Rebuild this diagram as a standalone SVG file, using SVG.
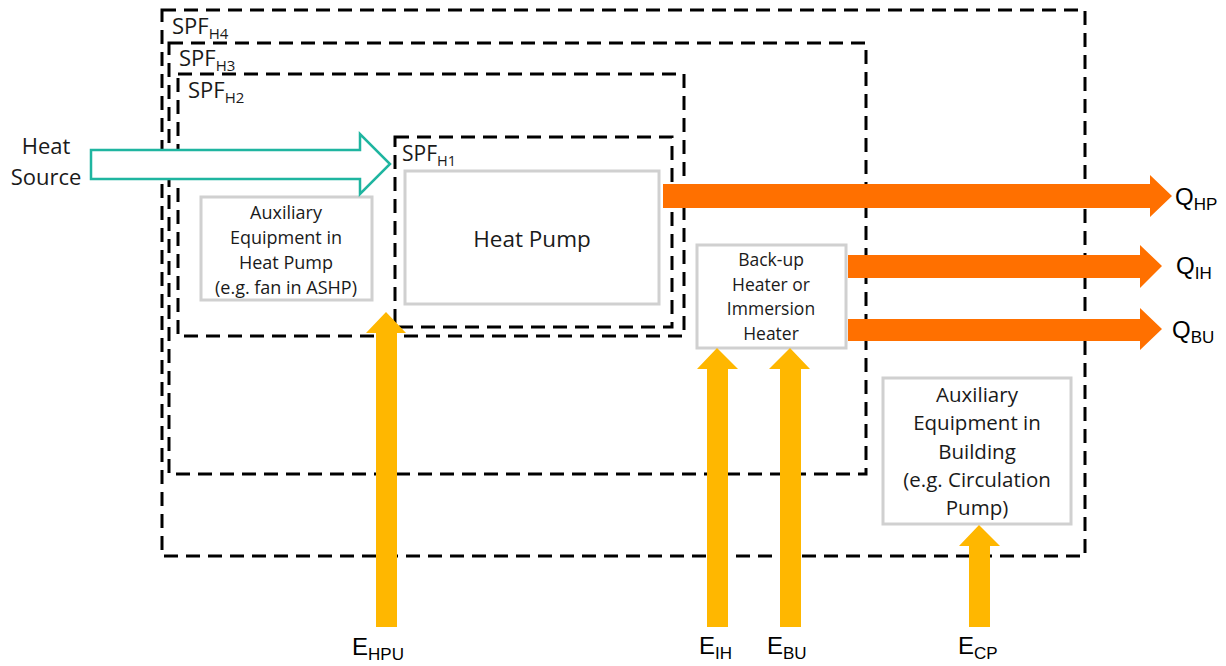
<svg xmlns="http://www.w3.org/2000/svg" width="1226" height="666" viewBox="0 0 1226 666">
<style>
.dash{fill:none;stroke:#000;stroke-width:3;stroke-dasharray:14 8}
.box{fill:#fff;stroke:#d0d0d0;stroke-width:3}
.t{font-family:"Open Sans","Liberation Sans",sans-serif;fill:#1a1a1a}
.a{font-family:"Liberation Sans",Arial,sans-serif;fill:#000}
.q{fill:#ff7000}
.e{fill:#ffb700}
</style>
<rect width="1226" height="666" fill="#fff"/>
<g id="spf-h4"><rect class="dash" x="162" y="10" width="923" height="546"/><text class="t" x="172" y="34" font-size="22">SPF<tspan font-size="15" dy="5">H4</tspan></text></g>
<g id="spf-h3"><rect class="dash" x="169" y="43" width="697" height="431"/><text class="t" x="179" y="66" font-size="22">SPF<tspan font-size="15" dy="5">H3</tspan></text></g>
<g id="spf-h2"><rect class="dash" x="178" y="74" width="506" height="262"/><text class="t" x="188" y="98" font-size="22">SPF<tspan font-size="15" dy="5">H2</tspan></text></g>
<g id="spf-h1"><rect class="dash" x="395" y="137" width="277" height="190"/><text class="t" x="402" y="161" font-size="21">SPF<tspan font-size="14.5" dy="5">H1</tspan></text></g>
<g id="heat-pump"><rect class="box" x="405" y="171" width="254" height="133"/><text class="t" x="532" y="247" font-size="22.5" text-anchor="middle">Heat Pump</text></g>
<g id="aux-hp"><rect class="box" x="201" y="197" width="171" height="103"/><text class="t" x="286" y="219" font-size="18" text-anchor="middle"><tspan x="286">Auxiliary</tspan><tspan x="286" dy="25">Equipment in</tspan><tspan x="286" dy="25">Heat Pump</tspan><tspan x="286" dy="25">(e.g. fan in ASHP)</tspan></text></g>
<g id="backup"><rect class="box" x="697" y="245" width="149" height="103"/><text class="t" x="771" y="266" font-size="17.5" text-anchor="middle"><tspan x="771">Back-up</tspan><tspan x="771" dy="24.5">Heater or</tspan><tspan x="771" dy="24.5">Immersion</tspan><tspan x="771" dy="24.5">Heater</tspan></text></g>
<g id="aux-building"><rect class="box" x="883" y="378" width="188" height="146"/><text class="t" x="977" y="402" font-size="20.5" text-anchor="middle"><tspan x="977">Auxiliary</tspan><tspan x="977" dy="28.3">Equipment in</tspan><tspan x="977" dy="28.3">Building</tspan><tspan x="977" dy="28.3">(e.g. Circulation</tspan><tspan x="977" dy="28.3">Pump)</tspan></text></g>
<g id="heat-source"><text class="t" x="46" y="154" font-size="22" text-anchor="middle"><tspan x="46">Heat</tspan><tspan x="46" dy="31">Source</tspan></text></g>
<g id="connectors">
<path d="M91,150 H360 V134 L390,164 L360,194 V179 H91 Z" fill="#fff" stroke="#1fb5a0" stroke-width="2.5"/>
<path class="q" d="M663,184 H1150 V175 L1172,196 L1150,217 V208 H663 Z"/>
<path class="q" d="M848,255 H1140 V245 L1162,266 L1140,288 V278 H848 Z"/>
<path class="q" d="M848,319 H1140 V308 L1162,329 L1140,350 V341 H848 Z"/>
<path class="e" d="M376,627 V333 H366 L386,312 L406,333 H397 V627 Z"/>
<path class="e" d="M707,627 V369 H697 L717,348 L738,369 H728 V627 Z"/>
<path class="e" d="M780,627 V369 H769 L790,348 L810,369 H801 V627 Z"/>
<path class="e" d="M969,627 V546 H959 L979,525 L1000,546 H990 V627 Z"/>
</g>
<g id="labels">
<text class="a" x="1175" y="205" font-size="24">Q<tspan font-size="17" dy="5">HP</tspan></text>
<text class="a" x="1176" y="274" font-size="24">Q<tspan font-size="17" dy="5">IH</tspan></text>
<text class="a" x="1172" y="338" font-size="24">Q<tspan font-size="17" dy="5">BU</tspan></text>
<text class="a" x="352" y="655" font-size="24">E<tspan font-size="17" dy="5">HPU</tspan></text>
<text class="a" x="699" y="654" font-size="24">E<tspan font-size="17" dy="5">IH</tspan></text>
<text class="a" x="767" y="654" font-size="24">E<tspan font-size="17" dy="5">BU</tspan></text>
<text class="a" x="958" y="654" font-size="24">E<tspan font-size="17" dy="5">CP</tspan></text>
</g>
</svg>
